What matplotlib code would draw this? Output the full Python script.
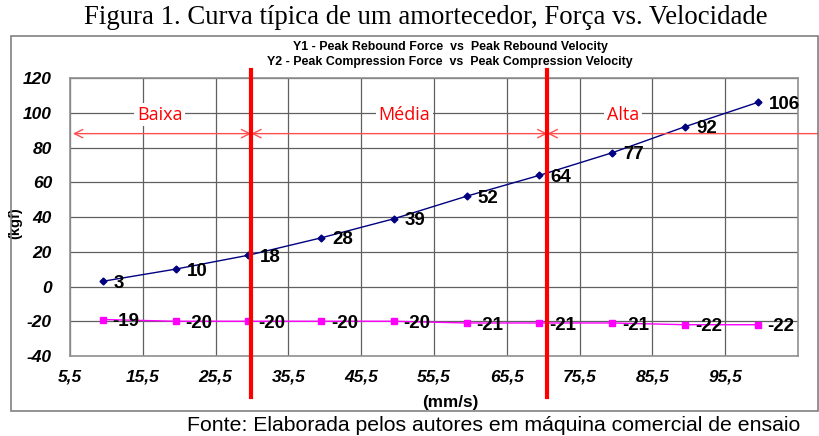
import matplotlib.pyplot as plt
from matplotlib.patches import Rectangle

plt.rcParams['axes.unicode_minus'] = False

# data
velocity = [10, 20, 30, 40, 50, 60, 70, 80, 90, 100]
rebound = [3, 10, 18, 28, 39, 52, 64, 77, 92, 106]
compression = [-19, -20, -20, -20, -20, -21, -21, -21, -22, -22]
xticks = [5.5, 15.5, 25.5, 35.5, 45.5, 55.5, 65.5, 75.5, 85.5, 95.5]
yticks = [-40, -20, 0, 20, 40, 60, 80, 100, 120]
zone_names = ['Baixa', 'Média', 'Alta']
zone_bounds = [5.9, 30.4, 71.1, 110.0]
zone_label_x = [17.8, 51.4, 81.5]
arrow_y = 88

fig = plt.figure(figsize=(8.2, 4.36), dpi=100)
ax = fig.add_axes([0.0854, 0.1835, 0.8876, 0.6375])

# outer frame
fig.patches.append(Rectangle((11 / 820, 1 - 411 / 436), (818 - 11) / 820, (411 - 36) / 436,
                             transform=fig.transFigure, fill=False,
                             edgecolor='#808080', linewidth=1.2))

fig.text(426 / 820, 1 - 18 / 436, 'Figura 1. Curva típica de um amortecedor, Força vs. Velocidade',
         family='Liberation Serif', fontsize=19.3, ha='center', va='center')
fig.text(800 / 820, 1 - 425 / 436, 'Fonte: Elaborada pelos autores em máquina comercial de ensaio',
         family='Liberation Sans', fontsize=15.3, ha='right', va='center')

ax.plot(velocity, rebound, color='#000080', linewidth=1, marker='D', markersize=3.5)
ax.plot(velocity, compression, color='#ff00ff', linewidth=1, marker='s', markersize=5)

for x, y in zip(velocity, rebound):
    ax.annotate(str(y), (x, y), xytext=(8, -1.5), textcoords='offset points',
                fontsize=13.5, fontweight='bold', family='Liberation Sans', va='center')
for x, y in zip(velocity, compression):
    ax.annotate(str(y), (x, y), xytext=(7, -1.5), textcoords='offset points',
                fontsize=13.5, fontweight='bold', family='Liberation Sans', va='center')

ax.set_xlim(5.5, 105.5)
ax.set_ylim(-40, 120)
ax.set_xticks(xticks)
ax.set_xticklabels([str(t).replace('.', ',') for t in xticks])
ax.set_yticks(yticks)
for lab in ax.get_xticklabels() + ax.get_yticklabels():
    lab.set_family('Liberation Sans')
    lab.set_fontweight('bold')
    lab.set_style('italic')
    lab.set_fontsize(12.5)
ax.tick_params(axis='y', length=0, pad=13)
ax.tick_params(axis='x', length=0, pad=10)
ax.grid(True, color='#606060', linewidth=0.9)
ax.set_axisbelow(True)
for s in ax.spines.values():
    s.set_color('#909090')
    s.set_linewidth(1.2)

ax.set_ylabel('(kgf)', family='Liberation Sans', fontweight='bold', fontsize=10.5)
ax.yaxis.set_label_coords(-0.066, 0.478)
ax.set_xlabel('(mm/s)', family='Liberation Sans', fontweight='bold', fontsize=12.3)
ax.xaxis.set_label_coords((450 - 70) / 728, -(395 - 356) / 278)

fig.text(450 / 820, 1 - 47 / 436, 'Y1 - Peak Rebound Force  vs  Peak Rebound Velocity',
         family='Liberation Sans', fontweight='bold', fontsize=8.9, ha='center', va='center')
fig.text(450 / 820, 1 - 62 / 436, 'Y2 - Peak Compression Force  vs  Peak Compression Velocity',
         family='Liberation Sans', fontweight='bold', fontsize=8.9, ha='center', va='center')

# zone arrows, labels and red dividers
for i in range(3):
    ax.annotate('', xy=(zone_bounds[i], arrow_y), xytext=(zone_bounds[i + 1], arrow_y),
                arrowprops=dict(arrowstyle='<->,head_length=0.6,head_width=0.3',
                                color='#ff5050', linewidth=1, shrinkA=0, shrinkB=0),
                annotation_clip=False)
    ax.text(zone_label_x[i], 99, zone_names[i], color='red', fontsize=13,
            family='Open Sans', ha='center', va='center',
            bbox=dict(facecolor='white', edgecolor='none', pad=2))
for xb in zone_bounds[1:3]:
    ax.plot([xb, xb], [124.5, -63.5], color='red', linewidth=3, clip_on=False, zorder=5)

plt.savefig('out.png', dpi=100)
